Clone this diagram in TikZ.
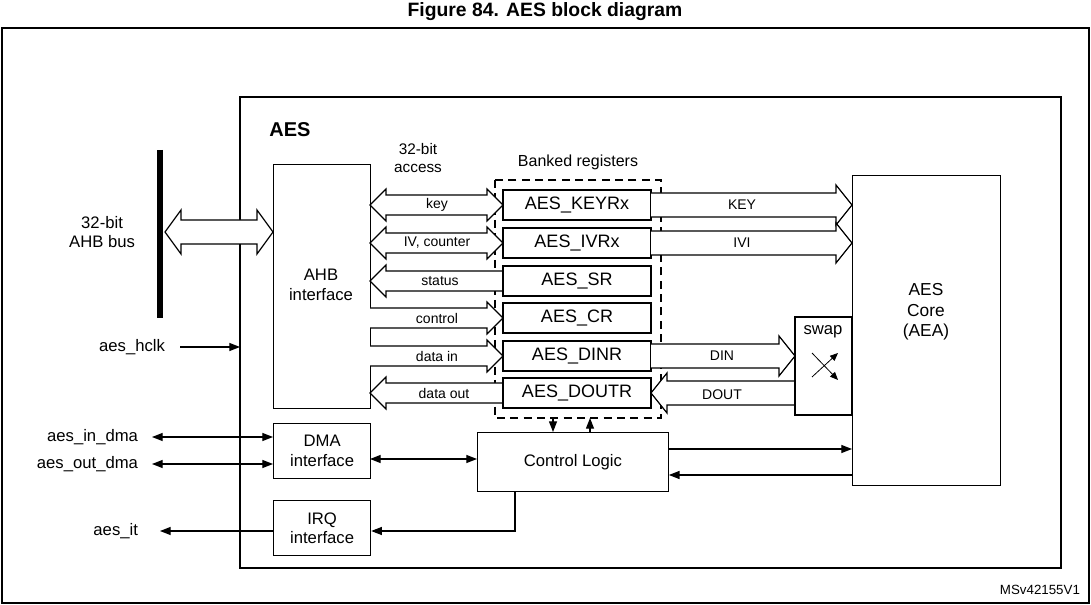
\documentclass[tikz,border=0pt]{standalone}
\usepackage{fontspec}
\setmainfont{Liberation Sans}
\usetikzlibrary{arrows.meta}
\newcommand\fatR[5]{% x1 x2 y halfshaft halfhead
\draw[fill=white] (#1,#3-#4) -- (#2-16,#3-#4) -- (#2-16,#3-#5) -- (#2,#3) -- (#2-16,#3+#5) -- (#2-16,#3+#4) -- (#1,#3+#4);}
\newcommand\fatL[5]{% x1 (tip) x2 y halfshaft halfhead
\draw[fill=white] (#2,#3-#4) -- (#1+16,#3-#4) -- (#1+16,#3-#5) -- (#1,#3) -- (#1+16,#3+#5) -- (#1+16,#3+#4) -- (#2,#3+#4);}
\newcommand\fatLR[5]{%
\draw[fill=white] (#1+16,#3-#4) -- (#2-16,#3-#4) -- (#2-16,#3-#5) -- (#2,#3) -- (#2-16,#3+#5) -- (#2-16,#3+#4) -- (#1+16,#3+#4) -- (#1+16,#3+#5) -- (#1,#3) -- (#1+16,#3-#5) -- cycle;}
\begin{document}
\begin{tikzpicture}[x=0.75pt,y=-0.75pt,line width=0.9pt,
 reg/.style={draw,fill=white,minimum width=111pt,minimum height=22.5pt,font=\fontsize{13.5}{15}\selectfont},
 sm/.style={font=\fontsize{10.5}{12}\selectfont},
 mid/.style={font=\fontsize{12.5}{14.5}\selectfont,align=center},
 arr/.style={-{Triangle[length=8pt,width=6pt]}},
 darr/.style={{Triangle[length=8pt,width=6pt]}-{Triangle[length=8pt,width=6pt]}}]
\useasboundingbox (0,0) rectangle (1091,605);
\node[font=\bfseries\fontsize{14.5}{16}\selectfont] (title) at (545,12) {Figure 84. AES block diagram};
\draw[line width=0.8pt] (2,28) rectangle (1089,603);
\draw (240,97) rectangle (1061,568);
\node[font=\bfseries\fontsize{15}{17}\selectfont] (aes) at (290,130) {AES};
% AHB bus
\draw[line width=4pt] (160,150) -- (160,318);
\node[mid,anchor=east] (bus) at (140,232) {32-bit\\AHB bus};
\fatLR{165}{273}{232}{12}{22}
\node[draw,minimum width=72.75pt,minimum height=183pt,anchor=north west] (ahb) at (273,164) {};
\node[mid] (ahbt) at (321,285) {AHB\\interface};
% banked regs
\node[mid,font=\fontsize{11.5}{13}\selectfont] (acc) at (418,158) {32-bit\\access};
\node[mid,font=\fontsize{12}{14}\selectfont] (bank) at (578,162) {Banked registers};
\draw[dashed,line width=1pt,dash pattern=on 6pt off 4pt] (495,180) rectangle (661,418);
% left arrows
\fatLR{370}{503}{205}{10}{16}
\fatLR{370}{503}{243}{10}{16}
\fatL{370}{503}{281}{10}{16}
\fatR{370}{503}{318}{10}{16}
\fatR{370}{503}{356}{10}{16}
\fatL{370}{503}{393}{10}{16}
\node[sm] (lk) at (437,205) {key};
\node[sm] (liv) at (437,243) {IV, counter};
\node[sm] (lst) at (440,281) {status};
\node[sm] (lct) at (437,318) {control};
\node[sm] (ldi) at (437,356) {data in};
\node[sm] (ldo) at (444,393) {data out};
% registers
\node[reg] (keyr) at (577,205) {AES\_KEYRx};
\node[reg] (ivr) at (577,243) {AES\_IVRx};
\node[reg] (sr) at (577,281) {AES\_SR};
\node[reg] (cr) at (577,318) {AES\_CR};
\node[reg] (dinr) at (577,356) {AES\_DINR};
\node[reg] (doutr) at (577,393) {AES\_DOUTR};
% right arrows
\fatR{651}{852}{205}{12}{20}
\fatR{651}{852}{243}{12}{20}
\fatR{651}{795}{356}{12}{20}
\fatL{651}{795}{393}{12}{20}
\node[sm] (lkey) at (742,205) {KEY};
\node[sm] (livi) at (742,243) {IVI};
\node[sm] (ldin) at (722,356) {DIN};
\node[sm] (ldout) at (722,395) {DOUT};
% swap and core
\draw[fill=white] (795,317) rectangle (852,415);
\node[mid] (swap) at (823,332) {swap};
\draw[line width=0.6pt,-{Triangle[length=6pt,width=5pt]}] (812,377) -- (838,353);
\draw[line width=0.6pt,-{Triangle[length=6pt,width=5pt]}] (812,353) -- (838,380);
\node[draw,minimum width=111pt,minimum height=232.5pt,anchor=north west] (core) at (852,175) {};
\node[mid,font=\fontsize{13}{15.5}\selectfont] (coret) at (926,312) {AES\\Core\\(AEA)};
% hclk
\node[mid,anchor=east] (hclk) at (170,347) {aes\_hclk};
\coordinate (hs) at (180,347);
\coordinate (he) at (240,347);
\draw[arr] (hs) -- (he);
% DMA
\node[draw,minimum width=72.75pt,minimum height=41pt,anchor=north west,mid] (dma) at (273,423) {DMA\\interface};
\node[mid,anchor=east] (indma) at (143,437) {aes\_in\_dma};
\node[mid,anchor=east] (outdma) at (143,464) {aes\_out\_dma};
\coordinate (i1) at (152,437); \coordinate (i2) at (273,437);
\coordinate (o1) at (152,464); \coordinate (o2) at (273,464);
\draw[darr] (i1) -- (i2);
\draw[darr] (o1) -- (o2);
% control logic
\node[draw,minimum width=143pt,minimum height=44pt,anchor=north west,mid] (ctl) at (477,432) {Control Logic};
\draw[darr] (370,459) -- (ctl.west |- 0,459);
\draw[arr] (553,418) -- (ctl.north -| 553,0);
\draw[arr] (ctl.north -| 590,0) -- (590,418);
\draw[arr] (ctl.east |- 0,449) -- (core.west |- 0,449);
\draw[arr] (core.west |- 0,475) -- (ctl.east |- 0,475);
% IRQ
\node[draw,minimum width=72.75pt,minimum height=41pt,anchor=north west,mid] (irq) at (273,500) {IRQ\\interface};
\node[mid,anchor=east] (it) at (143,531) {aes\_it};
\coordinate (it1) at (160,531);
\draw[arr] (irq.west |- 0,531) -- (it1);
\draw[arr] (ctl.south -| 515,0) -- (515,531) -- (irq.east |- 0,531);
\node[font=\fontsize{10}{12}\selectfont,anchor=east] (ms) at (1085,590) {MSv42155V1};
\end{tikzpicture}
\end{document}
